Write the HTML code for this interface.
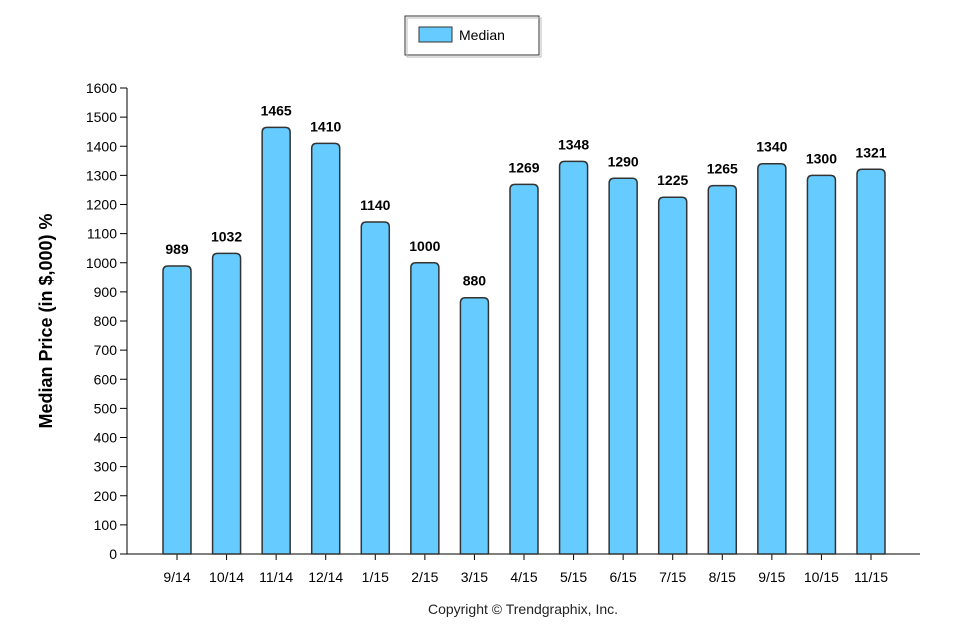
<!DOCTYPE html>
<html><head><meta charset="utf-8"><style>
body{margin:0;background:#fff;font-family:"Liberation Sans",sans-serif}
svg text{font-family:"Liberation Sans",sans-serif}
</style></head><body>
<svg id="c" width="978" height="638">
<g>
<rect x="405" y="16" width="134" height="39" fill="#fff" stroke="#333" stroke-width="1"/>
<rect x="407" y="18" width="134" height="39" fill="none" stroke="#bbb" stroke-width="1"/>
<rect x="419" y="27" width="33" height="15" fill="#66ccff" stroke="#333"/>
<text x="459" y="40" font-size="14" fill="#000">Median</text>
</g>
<text transform="translate(52,321) rotate(-90)" text-anchor="middle" font-size="18" font-weight="bold" fill="#000">Median Price (in $,000) %</text>
<text x="523" y="614" text-anchor="middle" font-size="14" fill="#222">Copyright © Trendgraphix, Inc.</text>
<g id="axes"></g><g id="bars"></g>
</svg>
<script>
const categories=["9/14","10/14","11/14","12/14","1/15","2/15","3/15","4/15","5/15","6/15","7/15","8/15","9/15","10/15","11/15"];
const medianValues=[989,1032,1465,1410,1140,1000,880,1269,1348,1290,1225,1265,1340,1300,1321];
const yTicks=[0,100,200,300,400,500,600,700,800,900,1000,1100,1200,1300,1400,1500,1600];
const NS="http://www.w3.org/2000/svg";
const x0=127,x1=920,y0=554,y1=88,yMax=1600;
const y=v=>y0-(v/yMax)*(y0-y1);
const step=(871-177)/(categories.length-1);
const xc=i=>177+i*step;
function mk(t,a,p){const e=document.createElementNS(NS,t);for(const k in a)e.setAttribute(k,a[k]);p.appendChild(e);return e;}
const ax=document.getElementById('axes'),bg=document.getElementById('bars');
const yl=mk('line',{x1:x0,y1:y1,x2:x0,y2:y0,stroke:'#000'},ax);


const xl=mk('line',{x1:x0,y1:y0,x2:x1,y2:y0,stroke:'#000'},ax);


yTicks.forEach(v=>{
 mk('line',{x1:x0-7,y1:y(v),x2:x0,y2:y(v),stroke:'#000'},ax);
 const t=mk('text',{x:x0-10,y:y(v)+5,'text-anchor':'end','font-size':14,fill:'#000'},ax);
 t.textContent=v;
 
 
});
categories.forEach((c,i)=>{
 const cx=xc(i);
 mk('line',{x1:cx,y1:y0,x2:cx,y2:y0+6,stroke:'#000'},ax);
 const t=mk('text',{x:cx,y:y0+28,'text-anchor':'middle','font-size':14,fill:'#000'},ax);
 t.textContent=c;
 
 
 const v=medianValues[i],top=y(v),w=28,l=cx-14,r=5;
 const b=mk('path',{d:`M${l},${y0} L${l},${top+r} Q${l},${top} ${l+r},${top} L${l+w-r},${top} Q${l+w},${top} ${l+w},${top+r} L${l+w},${y0} Z`,fill:'#66ccff',stroke:'#333','stroke-width':1.5},bg);
 
 
 const lb=mk('text',{x:cx,y:top-12,'text-anchor':'middle','font-size':14,'font-weight':'bold',fill:'#000'},bg);
 lb.textContent=v;
 
 
});
</script>
</body></html>
